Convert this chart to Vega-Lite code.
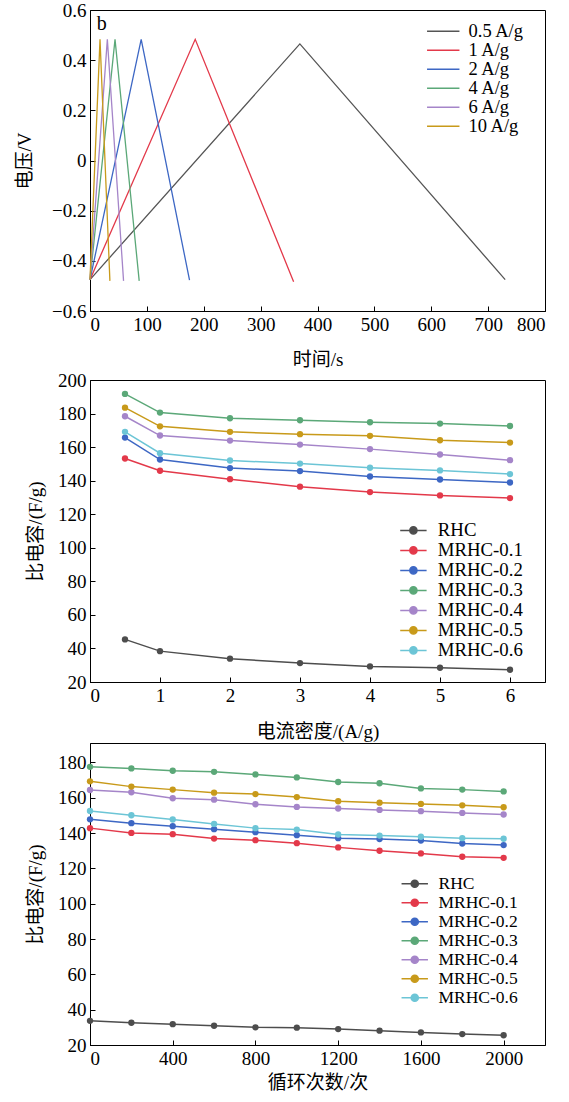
{
  "$schema": "https://vega.github.io/schema/vega-lite/v6.json",
  "background": "white",
  "padding": {"left": 15, "top": 0, "right": 0, "bottom": 0},
  "resolve": {"scale": {"color": "independent"}},
  "config": {
    "font": "Liberation Serif",
    "view": {"stroke": "black", "strokeWidth": 1},
    "axis": {
      "grid": false, "domainColor": "black", "tickColor": "black", "labelColor": "black", "titleColor": "black",
      "labelFont": "Liberation Serif", "titleFont": "Liberation Serif, Noto Sans CJK SC",
      "labelFontSize": 19, "titleFontSize": 19, "titleFontWeight": "normal",
      "tickSize": -5, "labelPadding": 9, "domainWidth": 1, "tickWidth": 1
    },
    "legend": {
      "labelFont": "Liberation Serif", "labelFontSize": 19, "labelColor": "black", "title": null
    },
    "concat": {"spacing": 0}
  },
  "vconcat": [
    {
      "width": 455, "height": 301,
      "data": {"values": [
        {"s": "0.5 A/g", "t": 0, "v": -0.475}, {"s": "0.5 A/g", "t": 369, "v": 0.465}, {"s": "0.5 A/g", "t": 730, "v": -0.475},
        {"s": "1 A/g", "t": 0, "v": -0.475}, {"s": "1 A/g", "t": 185, "v": 0.483}, {"s": "1 A/g", "t": 358, "v": -0.483},
        {"s": "2 A/g", "t": 0, "v": -0.475}, {"s": "2 A/g", "t": 90, "v": 0.483}, {"s": "2 A/g", "t": 175, "v": -0.477},
        {"s": "4 A/g", "t": 0, "v": -0.475}, {"s": "4 A/g", "t": 44, "v": 0.483}, {"s": "4 A/g", "t": 86.5, "v": -0.48},
        {"s": "6 A/g", "t": 0, "v": -0.475}, {"s": "6 A/g", "t": 30.5, "v": 0.483}, {"s": "6 A/g", "t": 59, "v": -0.48},
        {"s": "10 A/g", "t": 0, "v": -0.475}, {"s": "10 A/g", "t": 17.6, "v": 0.483}, {"s": "10 A/g", "t": 35, "v": -0.48}
      ]},
      "layer": [
        {
          "mark": {"type": "line", "strokeWidth": 1.3},
          "encoding": {
            "x": {"field": "t", "type": "quantitative", "scale": {"domain": [0, 800], "nice": false},
                  "axis": {"values": [0, 100, 200, 300, 400, 500, 600, 700, 800], "title": "时间/s", "titlePadding": 16, "labelFont": "Liberation Serif"}},
            "y": {"field": "v", "type": "quantitative", "scale": {"domain": [-0.6, 0.6], "nice": false},
                  "axis": {"values": [-0.6, -0.4, -0.2, 0, 0.2, 0.4, 0.6], "format": ".1~f", "title": "电压/V", "titlePadding": 17, "labelFont": "Liberation Serif"}},
            "color": {"field": "s", "type": "nominal",
              "scale": {"domain": ["0.5 A/g", "1 A/g", "2 A/g", "4 A/g", "6 A/g", "10 A/g"],
                        "range": ["#555555", "#e3394a", "#3d67c4", "#5ba878", "#a585c9", "#c89a1a"]},
              "legend": {"orient": "none", "legendX": 344, "legendY": 12, "symbolType": "M-2.7,0H2.7", "symbolSize": 144, "symbolStrokeWidth": 1.5, "rowPadding": 0, "labelFontSize": 18.5, "labelOffset": 16}}
          }
        },
        {
          "data": {"values": [{"p": "b"}]},
          "mark": {"type": "text", "align": "left", "baseline": "alphabetic", "fontSize": 20, "font": "Liberation Serif"},
          "encoding": {"x": {"datum": 12}, "y": {"datum": 0.52}, "text": {"field": "p"}}
        }
      ]
    },
    {
      "width": 455, "height": 302,
      "data": {"values": [
        {"s": "RHC", "j": 0.5, "c": 45.4}, {"s": "RHC", "j": 1, "c": 38.4}, {"s": "RHC", "j": 2, "c": 33.9}, {"s": "RHC", "j": 3, "c": 31.3}, {"s": "RHC", "j": 4, "c": 29.3}, {"s": "RHC", "j": 5, "c": 28.5}, {"s": "RHC", "j": 6, "c": 27.3},
        {"s": "MRHC-0.1", "j": 0.5, "c": 153.2}, {"s": "MRHC-0.1", "j": 1, "c": 145.9}, {"s": "MRHC-0.1", "j": 2, "c": 140.9}, {"s": "MRHC-0.1", "j": 3, "c": 136.4}, {"s": "MRHC-0.1", "j": 4, "c": 133.2}, {"s": "MRHC-0.1", "j": 5, "c": 131.2}, {"s": "MRHC-0.1", "j": 6, "c": 129.6},
        {"s": "MRHC-0.2", "j": 0.5, "c": 165.7}, {"s": "MRHC-0.2", "j": 1, "c": 152.6}, {"s": "MRHC-0.2", "j": 2, "c": 147.5}, {"s": "MRHC-0.2", "j": 3, "c": 145.7}, {"s": "MRHC-0.2", "j": 4, "c": 142.5}, {"s": "MRHC-0.2", "j": 5, "c": 140.7}, {"s": "MRHC-0.2", "j": 6, "c": 138.9},
        {"s": "MRHC-0.3", "j": 0.5, "c": 191.7}, {"s": "MRHC-0.3", "j": 1, "c": 180.6}, {"s": "MRHC-0.3", "j": 2, "c": 177.2}, {"s": "MRHC-0.3", "j": 3, "c": 176.0}, {"s": "MRHC-0.3", "j": 4, "c": 174.8}, {"s": "MRHC-0.3", "j": 5, "c": 174.0}, {"s": "MRHC-0.3", "j": 6, "c": 172.6},
        {"s": "MRHC-0.4", "j": 0.5, "c": 178.4}, {"s": "MRHC-0.4", "j": 1, "c": 166.9}, {"s": "MRHC-0.4", "j": 2, "c": 163.9}, {"s": "MRHC-0.4", "j": 3, "c": 161.5}, {"s": "MRHC-0.4", "j": 4, "c": 158.8}, {"s": "MRHC-0.4", "j": 5, "c": 155.6}, {"s": "MRHC-0.4", "j": 6, "c": 152.2},
        {"s": "MRHC-0.5", "j": 0.5, "c": 183.5}, {"s": "MRHC-0.5", "j": 1, "c": 172.4}, {"s": "MRHC-0.5", "j": 2, "c": 169.1}, {"s": "MRHC-0.5", "j": 3, "c": 167.7}, {"s": "MRHC-0.5", "j": 4, "c": 166.7}, {"s": "MRHC-0.5", "j": 5, "c": 164.1}, {"s": "MRHC-0.5", "j": 6, "c": 162.7},
        {"s": "MRHC-0.6", "j": 0.5, "c": 169.1}, {"s": "MRHC-0.6", "j": 1, "c": 156.4}, {"s": "MRHC-0.6", "j": 2, "c": 152.0}, {"s": "MRHC-0.6", "j": 3, "c": 150.2}, {"s": "MRHC-0.6", "j": 4, "c": 147.7}, {"s": "MRHC-0.6", "j": 5, "c": 146.1}, {"s": "MRHC-0.6", "j": 6, "c": 143.9}
      ]},
      "encoding": {
        "x": {"field": "j", "type": "quantitative", "scale": {"domain": [0, 6.5], "nice": false},
              "axis": {"values": [0, 1, 2, 3, 4, 5, 6], "title": "电流密度/(A/g)", "titlePadding": 17, "labelFont": "Liberation Serif"}},
        "y": {"field": "c", "type": "quantitative", "scale": {"domain": [20, 200], "nice": false},
              "axis": {"values": [20, 40, 60, 80, 100, 120, 140, 160, 180, 200], "title": "比电容/(F/g)", "titlePadding": 12, "labelFont": "Liberation Serif"}},
        "color": {"field": "s", "type": "nominal",
          "scale": {"domain": ["RHC", "MRHC-0.1", "MRHC-0.2", "MRHC-0.3", "MRHC-0.4", "MRHC-0.5", "MRHC-0.6"],
                    "range": ["#4d4d4d", "#e3394a", "#3d67c4", "#5ba878", "#a585c9", "#c89a1a", "#6cc5d6"]},
          "legend": {"orient": "none", "legendX": 314, "legendY": 141, "symbolType": "M-2.2,0H2.2M-0.6,0A0.6,0.6,0,1,1,0.6,0A0.6,0.6,0,1,1,-0.6,0Z", "symbolSize": 144, "symbolStrokeWidth": 1.5, "rowPadding": 0, "labelFontSize": 18.8, "labelOffset": 15}}
      },
      "layer": [
        {"mark": {"type": "line", "strokeWidth": 1.5}},
        {"mark": {"type": "point", "filled": true, "size": 40, "opacity": 1}},
        {
          "data": {"values": [{"p": "c"}]},
          "mark": {"type": "text", "align": "left", "baseline": "alphabetic", "fontSize": 20, "font": "Liberation Serif"},
          "encoding": {"x": {"datum": 0.13}, "y": {"datum": 188.7}, "text": {"field": "p"}, "color": {"value": "black"}}
        }
      ]
    },
    {
      "width": 455, "height": 302,
      "data": {"values": [
        {"s": "RHC", "n": 0, "c": 33.7}, {"s": "RHC", "n": 200, "c": 32.6}, {"s": "RHC", "n": 400, "c": 31.8}, {"s": "RHC", "n": 600, "c": 30.9}, {"s": "RHC", "n": 800, "c": 30.0}, {"s": "RHC", "n": 1000, "c": 29.8}, {"s": "RHC", "n": 1200, "c": 29.0}, {"s": "RHC", "n": 1400, "c": 28.1}, {"s": "RHC", "n": 1600, "c": 27.1}, {"s": "RHC", "n": 1800, "c": 26.2}, {"s": "RHC", "n": 2000, "c": 25.5},
        {"s": "MRHC-0.1", "n": 0, "c": 142.8}, {"s": "MRHC-0.1", "n": 200, "c": 140.1}, {"s": "MRHC-0.1", "n": 400, "c": 139.4}, {"s": "MRHC-0.1", "n": 600, "c": 136.9}, {"s": "MRHC-0.1", "n": 800, "c": 136.0}, {"s": "MRHC-0.1", "n": 1000, "c": 134.3}, {"s": "MRHC-0.1", "n": 1200, "c": 131.9}, {"s": "MRHC-0.1", "n": 1400, "c": 130.0}, {"s": "MRHC-0.1", "n": 1600, "c": 128.5}, {"s": "MRHC-0.1", "n": 1800, "c": 126.6}, {"s": "MRHC-0.1", "n": 2000, "c": 126.0},
        {"s": "MRHC-0.2", "n": 0, "c": 147.8}, {"s": "MRHC-0.2", "n": 200, "c": 145.6}, {"s": "MRHC-0.2", "n": 400, "c": 143.9}, {"s": "MRHC-0.2", "n": 600, "c": 142.2}, {"s": "MRHC-0.2", "n": 800, "c": 140.5}, {"s": "MRHC-0.2", "n": 1000, "c": 138.8}, {"s": "MRHC-0.2", "n": 1200, "c": 137.1}, {"s": "MRHC-0.2", "n": 1400, "c": 136.6}, {"s": "MRHC-0.2", "n": 1600, "c": 135.8}, {"s": "MRHC-0.2", "n": 1800, "c": 134.1}, {"s": "MRHC-0.2", "n": 2000, "c": 133.2},
        {"s": "MRHC-0.3", "n": 0, "c": 177.5}, {"s": "MRHC-0.3", "n": 200, "c": 176.6}, {"s": "MRHC-0.3", "n": 400, "c": 175.3}, {"s": "MRHC-0.3", "n": 600, "c": 174.7}, {"s": "MRHC-0.3", "n": 800, "c": 173.2}, {"s": "MRHC-0.3", "n": 1000, "c": 171.5}, {"s": "MRHC-0.3", "n": 1200, "c": 168.9}, {"s": "MRHC-0.3", "n": 1400, "c": 168.2}, {"s": "MRHC-0.3", "n": 1600, "c": 165.3}, {"s": "MRHC-0.3", "n": 1800, "c": 164.6}, {"s": "MRHC-0.3", "n": 2000, "c": 163.6},
        {"s": "MRHC-0.4", "n": 0, "c": 164.4}, {"s": "MRHC-0.4", "n": 200, "c": 163.1}, {"s": "MRHC-0.4", "n": 400, "c": 159.7}, {"s": "MRHC-0.4", "n": 600, "c": 158.9}, {"s": "MRHC-0.4", "n": 800, "c": 156.3}, {"s": "MRHC-0.4", "n": 1000, "c": 154.8}, {"s": "MRHC-0.4", "n": 1200, "c": 153.9}, {"s": "MRHC-0.4", "n": 1400, "c": 153.1}, {"s": "MRHC-0.4", "n": 1600, "c": 152.4}, {"s": "MRHC-0.4", "n": 1800, "c": 151.4}, {"s": "MRHC-0.4", "n": 2000, "c": 150.5},
        {"s": "MRHC-0.5", "n": 0, "c": 169.3}, {"s": "MRHC-0.5", "n": 200, "c": 166.3}, {"s": "MRHC-0.5", "n": 400, "c": 164.6}, {"s": "MRHC-0.5", "n": 600, "c": 162.9}, {"s": "MRHC-0.5", "n": 800, "c": 162.1}, {"s": "MRHC-0.5", "n": 1000, "c": 160.4}, {"s": "MRHC-0.5", "n": 1200, "c": 158.0}, {"s": "MRHC-0.5", "n": 1400, "c": 157.2}, {"s": "MRHC-0.5", "n": 1600, "c": 156.5}, {"s": "MRHC-0.5", "n": 1800, "c": 155.7}, {"s": "MRHC-0.5", "n": 2000, "c": 154.6},
        {"s": "MRHC-0.6", "n": 0, "c": 152.5}, {"s": "MRHC-0.6", "n": 200, "c": 150.1}, {"s": "MRHC-0.6", "n": 400, "c": 147.7}, {"s": "MRHC-0.6", "n": 600, "c": 145.2}, {"s": "MRHC-0.6", "n": 800, "c": 142.8}, {"s": "MRHC-0.6", "n": 1000, "c": 142.0}, {"s": "MRHC-0.6", "n": 1200, "c": 139.2}, {"s": "MRHC-0.6", "n": 1400, "c": 138.6}, {"s": "MRHC-0.6", "n": 1600, "c": 137.9}, {"s": "MRHC-0.6", "n": 1800, "c": 137.1}, {"s": "MRHC-0.6", "n": 2000, "c": 136.8}
      ]},
      "encoding": {
        "x": {"field": "n", "type": "quantitative", "scale": {"domain": [0, 2200], "nice": false},
              "axis": {"values": [0, 400, 800, 1200, 1600, 2000], "format": "d", "title": "循环次数/次", "titlePadding": 5, "labelFont": "Liberation Serif"}},
        "y": {"field": "c", "type": "quantitative", "scale": {"domain": [20, 191], "nice": false},
              "axis": {"values": [20, 40, 60, 80, 100, 120, 140, 160, 180], "title": "比电容/(F/g)", "titlePadding": 12, "labelFont": "Liberation Serif"}},
        "color": {"field": "s", "type": "nominal",
          "scale": {"domain": ["RHC", "MRHC-0.1", "MRHC-0.2", "MRHC-0.3", "MRHC-0.4", "MRHC-0.5", "MRHC-0.6"],
                    "range": ["#4d4d4d", "#e3394a", "#3d67c4", "#5ba878", "#a585c9", "#c89a1a", "#6cc5d6"]},
          "legend": {"orient": "none", "legendX": 316, "legendY": 132, "symbolType": "M-2.2,0H2.2M-0.6,0A0.6,0.6,0,1,1,0.6,0A0.6,0.6,0,1,1,-0.6,0Z", "symbolSize": 144, "symbolStrokeWidth": 1.5, "rowPadding": 0, "labelFontSize": 17.5, "labelOffset": 15}}
      },
      "layer": [
        {"mark": {"type": "line", "strokeWidth": 1.5}},
        {"mark": {"type": "point", "filled": true, "size": 40, "opacity": 1}},
        {
          "data": {"values": [{"p": "d"}]},
          "mark": {"type": "text", "align": "left", "baseline": "alphabetic", "fontSize": 20, "font": "Liberation Serif"},
          "encoding": {"x": {"datum": 48}, "y": {"datum": 180.7}, "text": {"field": "p"}, "color": {"value": "black"}}
        }
      ]
    }
  ]
}
